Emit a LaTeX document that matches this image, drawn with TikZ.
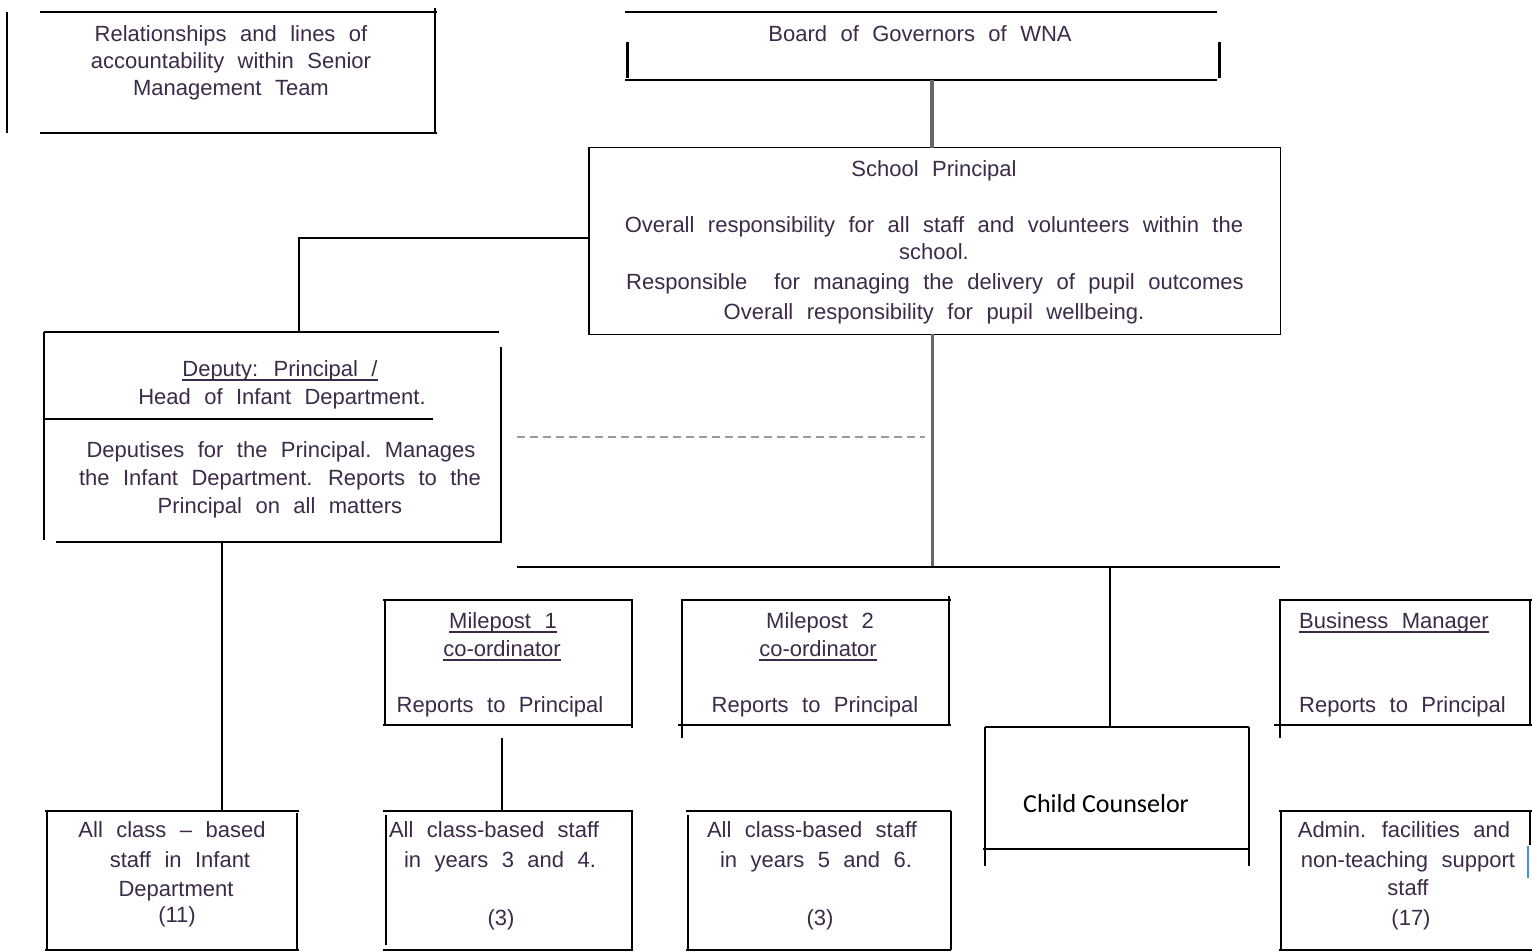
\documentclass[tikz,border=0pt]{standalone}
\usepackage{fontspec}
\setmainfont{Liberation Sans}[WordSpace=2.2]
\newfontfamily\calfont{Carlito}
\definecolor{ink}{HTML}{3B2A48}
\definecolor{trunkgray}{HTML}{666666}
\definecolor{cursorblue}{HTML}{4A90D9}
% underline with a fixed, visible rule
\newcommand\myul[1]{\setbox0\hbox{#1}\rlap{\vrule height -2.8pt depth 4.6pt width \wd0}\box0}
\begin{document}
\begin{tikzpicture}[x=1pt,y=-1pt,
  edge/.style={line width=1.4pt, black},
  heavy/.style={line width=3pt, black},
  trunk/.style={line width=3.5pt, trunkgray},
  area/.style={inner sep=0pt, draw=none, minimum width=#1},
  txt/.style={anchor=base, inner sep=0pt, text=ink, font=\fontsize{22}{27}\selectfont},
  txtl/.style={txt, anchor=base west}]
\useasboundingbox (0,0) rectangle (1532,952);

% ---- box areas (named) ----
\node[area=395pt, minimum height=121pt] (title) at (237.5,72.5) {};
\node[area=592pt, minimum height=68pt] (board) at (923,46) {};
\node[area=691pt, minimum height=186pt] (principal) at (934.5,241) {};
\node[area=457pt, minimum height=210pt] (deputy) at (272.5,437) {};
\node[area=247pt, minimum height=125pt] (mp1) at (508.5,662.5) {};
\node[area=267pt, minimum height=125pt] (mp2) at (815.5,662.5) {};
\node[area=264pt, minimum height=122pt] (counsel) at (1117,788) {};
\node[area=250pt, minimum height=125pt] (bm) at (1405,662.5) {};
\node[area=250pt, minimum height=139pt] (sA) at (172,880.5) {};
\node[area=246pt, minimum height=139pt] (sB) at (509,880.5) {};
\node[area=263pt, minimum height=139pt] (sC) at (819.5,880.5) {};
\node[area=249pt, minimum height=139pt] (sD) at (1405.5,880.5) {};

% ---- box outlines (broken edges) ----
% title
\draw[edge] (40,12) -- (437,12);
\draw[edge] (40,133) -- (437,133);
\draw[edge] (435,8) -- (435,133);
\draw[edge] (7,12) -- (7,133);
% board
\draw[edge] (625,12) -- (1217,12);
\draw[line width=2.4pt] (625,80) -- (1217,80);
\draw[heavy] (627,42) -- (627,78);
\draw[heavy] (1219,42) -- (1219,78);
% principal
\draw[edge] (principal.north west) rectangle (principal.south east);
% deputy
\draw[edge] (44,332) -- (499,332);
\draw[edge] (44,332) -- (44,540);
\draw[edge] (501,347) -- (501,543);
\draw[edge] (56,542) -- (501,542);
\draw[edge] (44,419) -- (433,419);
% milepost 1
\draw[edge] (383,600) -- (633,600);
\draw[edge] (385,600) -- (385,725);
\draw[edge] (632,600) -- (632,728);
\draw[edge] (383,725) -- (633,725);
% milepost 2
\draw[edge] (681,600) -- (951,600);
\draw[edge] (682,600) -- (682,738);
\draw[edge] (949,596) -- (949,725);
\draw[edge] (678,725) -- (951,725);
% child counselor
\draw[edge] (985,727) -- (1249,727);
\draw[edge] (985,727) -- (985,866);
\draw[edge] (1249,727) -- (1249,866);
\draw[edge] (983,849) -- (1249,849);
% business manager
\draw[edge] (1279,600) -- (1532,600);
\draw[edge] (1280,600) -- (1280,738);
\draw[edge] (1530,600) -- (1530,725);
\draw[edge] (1274,725) -- (1532,725);
% staff boxes
\draw[edge] (45,811) -- (299,811);
\draw[edge] (47,811) -- (47,950);
\draw[edge] (297,813) -- (297,950);
\draw[edge] (45,950) -- (299,950);
\draw[edge] (383,811) -- (633,811);
\draw[edge] (386,815) -- (386,945);
\draw[edge] (632,811) -- (632,950);
\draw[edge] (383,950) -- (633,950);
\draw[edge] (686,811) -- (951,811);
\draw[edge] (688,815) -- (688,950);
\draw[edge] (951,811) -- (951,950);
\draw[edge] (686,950) -- (951,950);
\draw[edge] (1279,811) -- (1532,811);
\draw[edge] (1281,811) -- (1281,950);
\draw[edge] (1530,811) -- (1530,845);
\draw[edge] (1279,950) -- (1532,950);
\draw[line width=2.5pt, cursorblue] (1528,846) -- (1528,878);

% ---- connectors ----
\coordinate (trunk) at (932,567);
\coordinate (barL) at (517,567);
\coordinate (barR) at (1280,567);
\coordinate (dashL) at (517,437);
\coordinate (dashR) at (925,437);
\draw[trunk] (board.south -| trunk) -- (principal.north -| trunk);
\draw[line width=3pt, trunkgray] (principal.south -| trunk) -- (trunk);
\draw[edge] (barL) -- (barR);
\draw[edge] ([yshift=3pt]principal.west) -| ([xshift=26.5pt]deputy.north);
\draw[line width=1.5pt, gray!80, dash pattern=on 8pt off 5pt] (dashL) -- (dashR);
\draw[edge] ([xshift=-7pt]counsel.north) -- ([xshift=-7pt]counsel.north |- barL);
\draw[edge] ([xshift=-50.5pt]deputy.south) -- ([xshift=50pt]sA.north);
\draw[edge] ([xshift=-6.5pt,yshift=-13pt]mp1.south) -- ([xshift=-7pt]sB.north);

% ---- texts ----
\node[txt] (t1) at (231,42) {Relationships and lines of};
\node[txt] (t2) at (231,69) {accountability within Senior};
\node[txt] (t3) at (231,96) {Management Team};

\node[txt] (b1) at (920,42) {Board of Governors of WNA};

\node[txt] (p1) at (934,177) {School Principal};
\node[txt] (p2) at (934,233) {Overall responsibility for all staff and volunteers within the};
\node[txt] (p3) at (934,260) {school.};
\node[txt] (p4) at (935,290) {Responsible\ \ for managing the delivery of pupil outcomes};
\node[txt] (p5) at (934,319) {Overall responsibility for pupil wellbeing.};

\node[txt] (d1) at (280,376) {\myul{Deputy: Principal /}};
\node[txt] (d2) at (282,404) {Head of Infant Department.};
\node[txt] (d3) at (281,457) {Deputises for the Principal.\ Manages};
\node[txt] (d4) at (280,485) {the Infant Department. Reports to the};
\node[txt] (d5) at (280,513) {Principal on all matters};

\node[txt] (m11) at (503,628) {\myul{Milepost 1}};
\node[txt] (m12) at (502,656) {\myul{co-ordinator}};
\node[txt] (m13) at (500,712) {Reports to Principal};

\node[txt] (m21) at (820,628) {Milepost 2};
\node[txt] (m22) at (818,656) {\myul{co-ordinator}};
\node[txt] (m23) at (815,712) {Reports to Principal};

\node[txtl] (bm1) at (1299,628) {\myul{Business Manager}};
\node[txtl] (bm2) at (1299,712) {Reports to Principal};

\node[anchor=base, inner sep=0pt, text=black, font=\calfont\fontsize{26}{30}\selectfont] (c1) at (1106,812) {Child Counselor};

\node[txt] (a1) at (172,837) {All class -- based};
\node[txt] (a2) at (180,867) {staff in Infant};
\node[txt] (a3) at (176,896) {Department};
\node[txt] (a4) at (177,922) {(11)};

\node[txt] (s1) at (494,837) {All class-based staff};
\node[txt] (s2) at (500,867) {in years 3 and 4.};
\node[txt] (s3) at (501,925) {(3)};

\node[txt] (u1) at (812,837) {All class-based staff};
\node[txt] (u2) at (816,867) {in years 5 and 6.};
\node[txt] (u3) at (820,925) {(3)};

\node[txt] (n1) at (1404,837) {Admin. facilities and};
\node[txt] (n2) at (1408,867) {non-teaching support};
\node[txt] (n3) at (1408,895) {staff};
\node[txt] (n4) at (1411,925) {(17)};
\end{tikzpicture}
\end{document}
